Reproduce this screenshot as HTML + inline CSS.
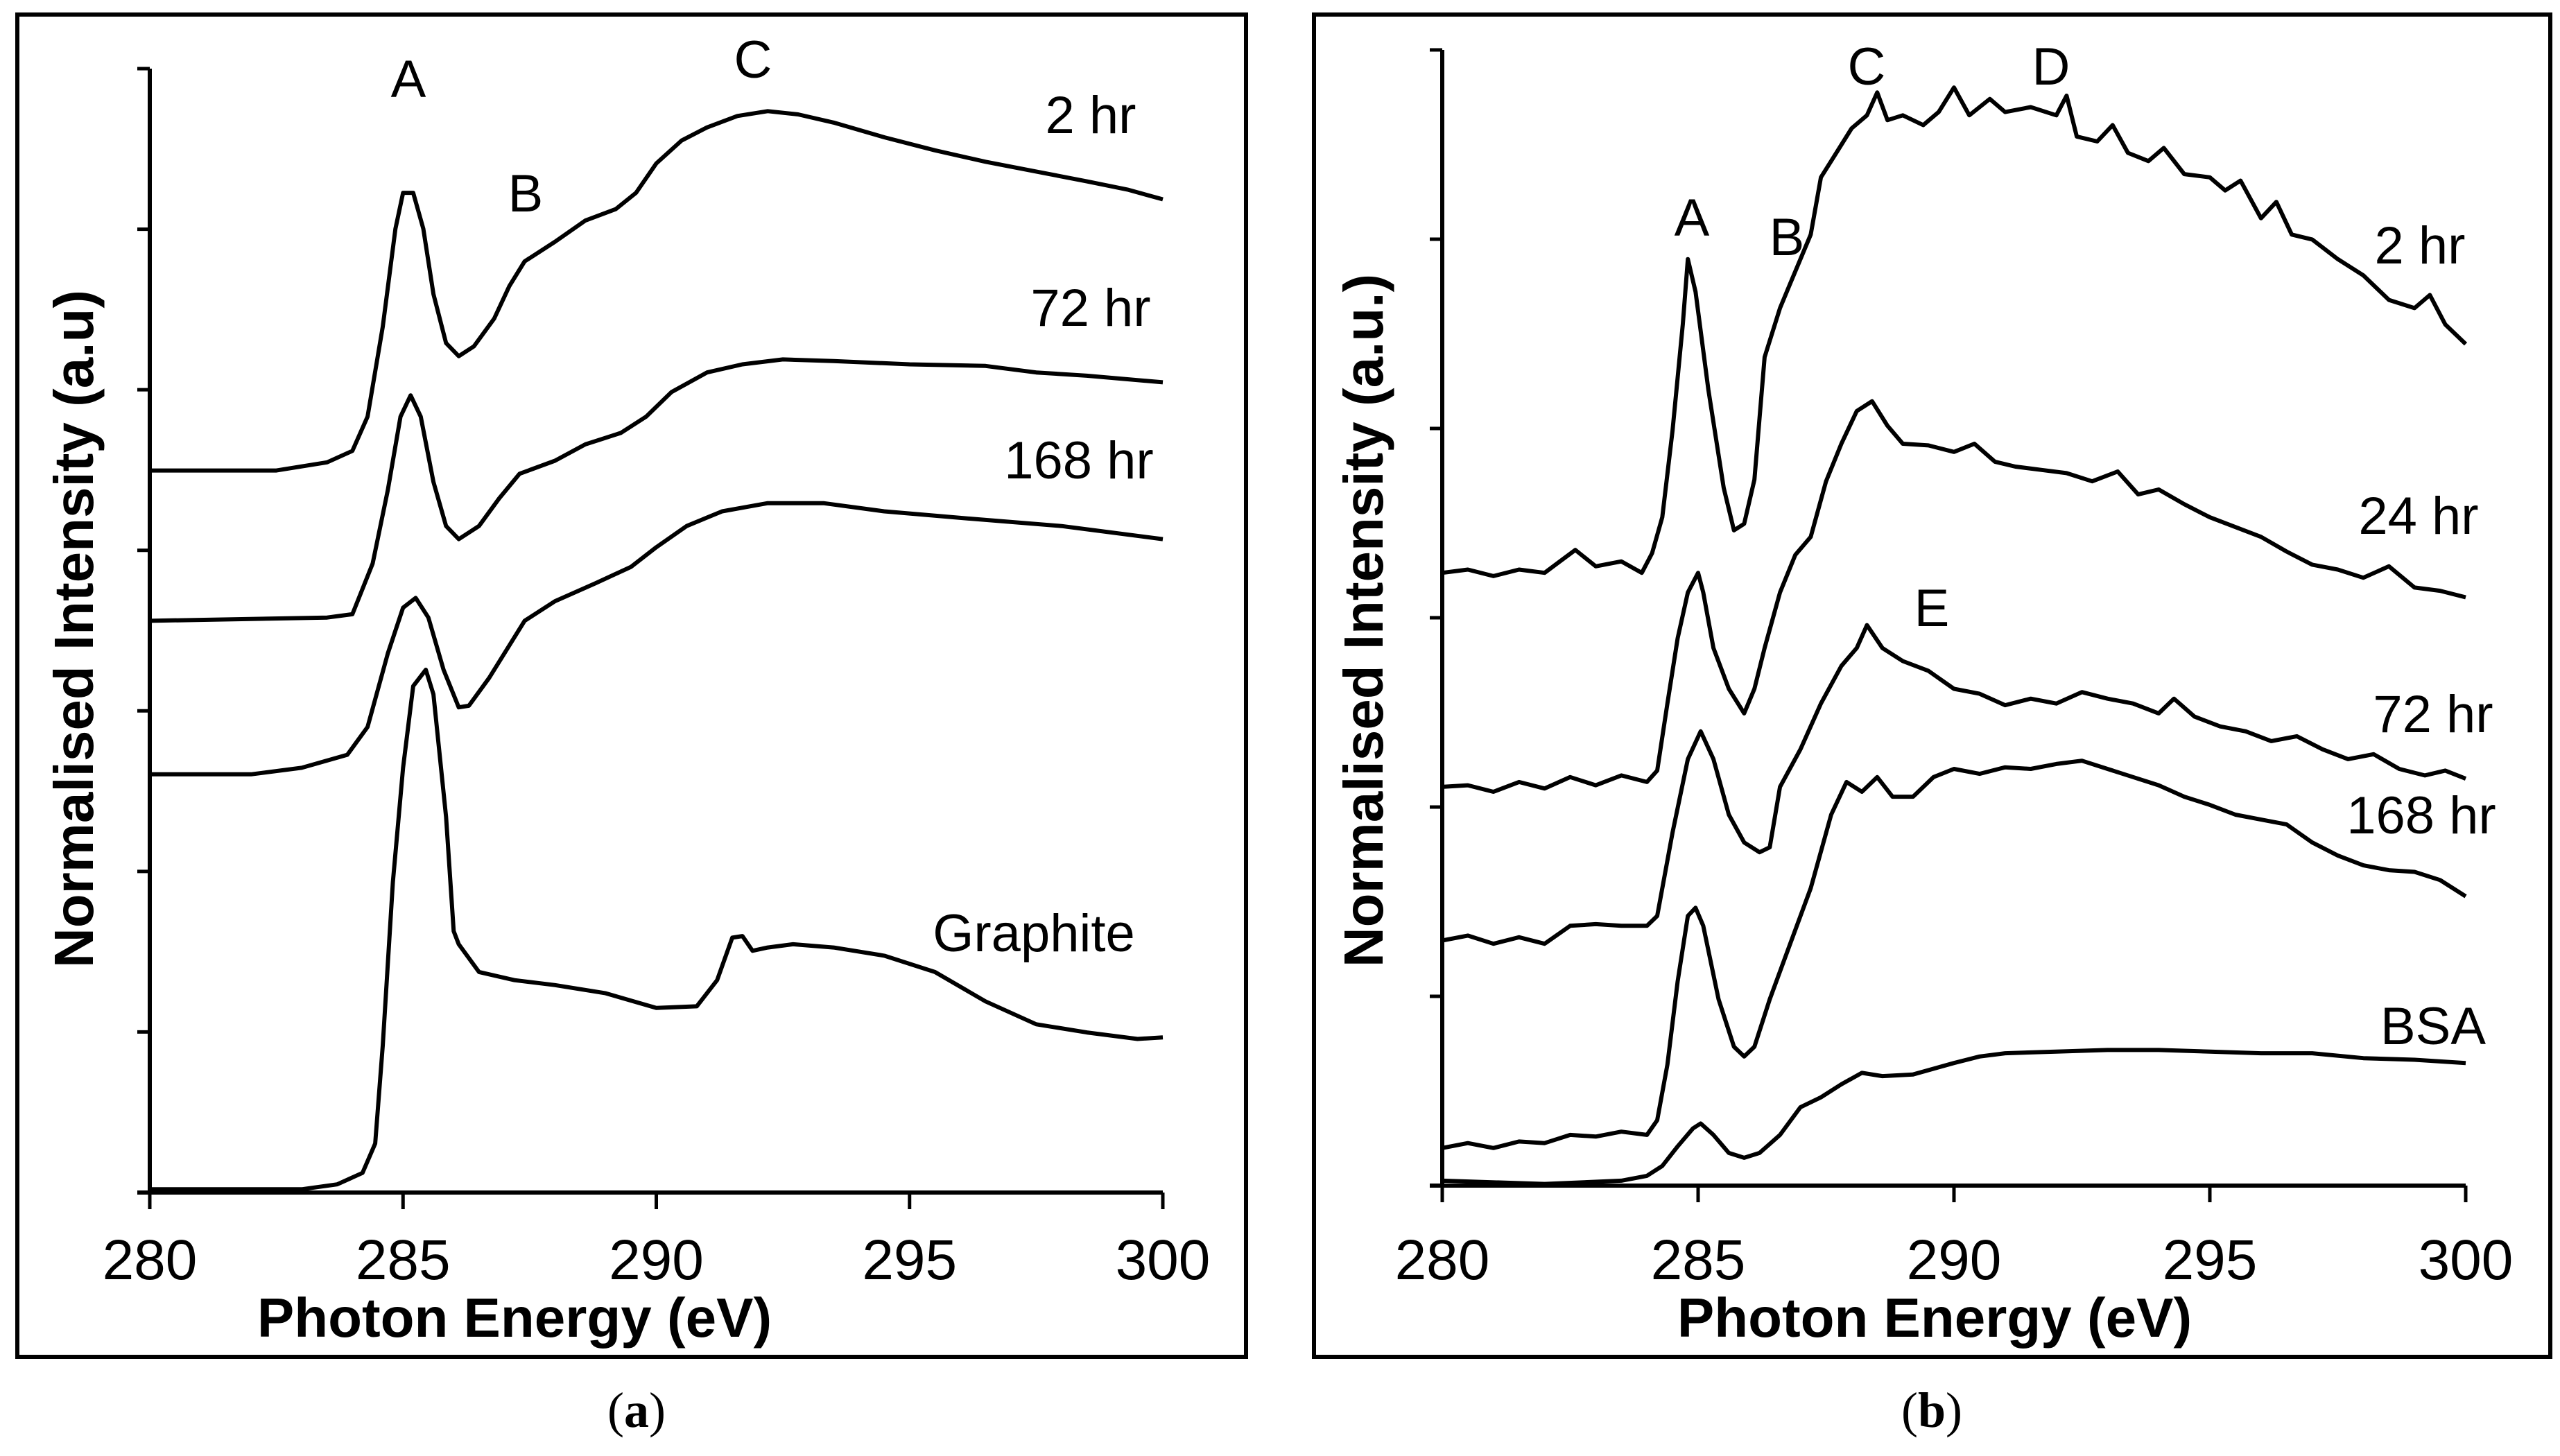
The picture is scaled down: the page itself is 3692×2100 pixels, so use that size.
<!DOCTYPE html>
<html><head><meta charset="utf-8"><style>
html,body{margin:0;padding:0;background:#fff}
svg{display:block}
text{font-family:"Liberation Sans",sans-serif;fill:#000}
</style></head><body>
<svg id="fig" width="3692" height="2100" viewBox="0 0 3692 2100">
<rect x="25" y="21" width="1772" height="1936" fill="none" stroke="#000" stroke-width="6"/>
<rect x="1895" y="21" width="1783" height="1936" fill="none" stroke="#000" stroke-width="6"/>
<g id="pa"></g>
<g id="pb"></g>
<text x="113" y="907" font-size="80" font-weight="bold" text-anchor="middle" dominant-baseline="middle" transform="rotate(-90 113 907)">Normalised Intensity (a.u)</text>
<text x="1973" y="895" font-size="80" font-weight="bold" text-anchor="middle" dominant-baseline="middle" transform="rotate(-90 1973 895)">Normalised Intensity (a.u.)</text>
<text x="742" y="1928" font-size="80" font-weight="bold" text-anchor="middle">Photon Energy (eV)</text>
<text x="2790" y="1928" font-size="80" font-weight="bold" text-anchor="middle">Photon Energy (eV)</text>
<text x="918" y="2058" font-size="72" text-anchor="middle" style="font-family:'Liberation Serif',serif">(<tspan font-weight="bold">a</tspan>)</text>
<text x="2786" y="2058" font-size="72" text-anchor="middle" style="font-family:'Liberation Serif',serif">(<tspan font-weight="bold">b</tspan>)</text>
</svg>
<script>
// ---------- shared x ticks ----------
const xTicks = [280, 285, 290, 295, 300];

// ---------- Panel A data (energy eV, intensity a.u.) ----------
const aX2 = [280,282.5,283.5,284,284.3,284.6,284.85,285,285.2,285.4,285.6,285.85,286.1,286.4,286.8,287.1,287.4,288,288.6,289.2,289.6,290,290.5,291,291.6,292.2,292.8,293.5,294.5,295.5,296.5,297.5,298.5,299.3,300];
const aY2 = [442,442,447,454,475,530,590,612,612,590,550,520,512,518,535,555,570,582,595,602,612,630,644,652,659,662,660,655,646,638,631,625,619,614,608];
const aX72 = [280,283.5,284,284.4,284.7,284.95,285.15,285.35,285.6,285.85,286.1,286.5,286.9,287.3,288,288.6,289.3,289.8,290.3,291,291.7,292.5,293.5,295,296.5,297.5,298.5,300];
const aY72 = [350,352,354,385,430,475,488,475,435,408,400,408,425,440,448,458,465,475,490,502,507,510,509,507,506,502,500,496];
const aX168 = [280,282,283,283.9,284.3,284.7,285,285.25,285.5,285.8,286.1,286.3,286.7,287.1,287.4,288,288.8,289.5,290,290.6,291.3,292.2,293.3,294.5,296,298,300];
const aY168 = [256,256,260,268,285,330,358,364,352,320,297,298,315,335,350,362,373,383,395,408,417,422,422,417,413,408,400];
const aXg = [280,283,283.7,284.2,284.45,284.6,284.8,285,285.2,285.45,285.6,285.85,286,286.1,286.5,287.2,288,289,290,290.8,291.2,291.5,291.7,291.9,292.2,292.7,293.5,294.5,295.5,296.5,297.5,298.5,299.5,300];
const aYg = [2,2,5,12,30,90,190,260,310,320,305,230,160,152,135,130,127,122,113,114,130,156,157,148,150,152,150,145,135,117,103,98,94,95];
const aYMax = 688;

// ---------- Panel B data ----------
const bX2 = [280,280.5,281,281.5,282,282.3,282.6,283,283.5,283.9,284.1,284.3,284.5,284.7,284.8,284.95,285.2,285.5,285.7,285.9,286.1,286.3,286.6,286.8,287,287.2,287.4,287.7,288,288.3,288.5,288.7,289,289.4,289.7,290,290.3,290.7,291,291.5,292,292.2,292.4,292.8,293.1,293.4,293.8,294.1,294.5,295,295.3,295.6,296,296.3,296.6,297,297.5,298,298.5,299,299.3,299.6,300];
const bY2 = [375,377,373,377,375,382,389,379,382,375,387,409,462,527,567,547,487,427,401,405,432,507,537,552,567,582,617,632,647,655,669,652,655,649,657,672,655,665,657,660,655,667,642,639,649,632,627,635,619,617,609,615,592,602,582,579,567,557,542,537,545,527,515];
const bX24 = [280,280.5,281,281.5,282,282.5,283,283.5,284,284.2,284.4,284.6,284.8,285,285.1,285.3,285.6,285.9,286.1,286.3,286.6,286.9,287.2,287.5,287.8,288.1,288.4,288.7,289,289.5,290,290.4,290.8,291.2,291.7,292.2,292.7,293.2,293.6,294,294.5,295,295.5,296,296.5,297,297.5,298,298.5,299,299.5,300];
const bY24 = [244,245,241,247,243,250,245,251,247,254,295,335,363,375,363,329,304,289,304,329,363,386,397,431,454,474,480,465,454,453,449,454,443,440,438,436,431,437,423,426,417,409,403,397,388,380,377,372,379,366,364,360];
const bX72 = [280,280.5,281,281.5,282,282.5,283,283.5,284,284.2,284.5,284.8,285.05,285.3,285.6,285.9,286.2,286.4,286.6,287,287.4,287.8,288.1,288.3,288.6,289,289.5,290,290.5,291,291.5,292,292.5,293,293.5,294,294.3,294.7,295.2,295.7,296.2,296.7,297.2,297.7,298.2,298.7,299.2,299.6,300];
const bY72 = [150,153,148,152,148,159,160,159,159,165,216,261,278,261,227,210,204,207,244,267,295,318,329,343,329,321,315,304,301,294,298,295,302,298,295,289,298,287,281,278,272,275,267,261,264,255,251,254,249];
const bX168 = [280,280.5,281,281.5,282,282.5,283,283.5,284,284.2,284.4,284.6,284.8,284.95,285.1,285.4,285.7,285.9,286.1,286.4,286.8,287.2,287.6,287.9,288.2,288.5,288.8,289.2,289.6,290,290.5,291,291.5,292,292.5,293,293.5,294,294.5,295,295.5,296,296.5,297,297.5,298,298.5,299,299.5,300];
const bY168 = [23,26,23,27,26,31,30,33,31,40,74,125,165,170,159,114,85,79,85,114,148,182,227,247,241,250,238,238,250,255,252,256,255,258,260,255,250,245,238,233,227,224,221,210,202,196,193,192,187,177];
const bXbsa = [280,282,283.5,284,284.3,284.6,284.9,285.05,285.3,285.6,285.9,286.2,286.6,287,287.4,287.8,288.2,288.6,289.2,290,290.5,291,292,293,294,295,296,297,298,299,300];
const bYbsa = [3,1,3,6,12,24,35,38,31,20,17,20,31,48,54,62,69,67,68,75,79,81,82,83,83,82,81,81,78,77,75];
const bYMax = 695;

const NS = "http://www.w3.org/2000/svg";
function mk(tag, attrs, parent){const e=document.createElementNS(NS,tag);for(const k in attrs)e.setAttribute(k,attrs[k]);parent.appendChild(e);return e;}

function drawPanel(g, cfg){
  const sx = v => cfg.x0 + (v-280)/20*(cfg.x1-cfg.x0);
  const sy = v => cfg.yb - v/cfg.ymax*(cfg.yb-cfg.yt);
  const ya = mk('line',{x1:sx(280),y1:cfg.yt,x2:sx(280),y2:cfg.yb,stroke:'#000','stroke-width':6},g);
  
  
  const xa = mk('line',{x1:sx(280)-18,y1:cfg.yb,x2:sx(300),y2:cfg.yb,stroke:'#000','stroke-width':6},g);
  
  
  for(let i=0;i<=cfg.nTicks;i++){
    const y = cfg.yb - i*(cfg.yb-cfg.yt)/cfg.nTicks;
    const t = mk('line',{x1:sx(280)-18,y1:y,x2:sx(280),y2:y,stroke:'#000','stroke-width':5},g);
    
    
  }
  xTicks.forEach(v=>{
    const t = mk('line',{x1:sx(v),y1:cfg.yb,x2:sx(v),y2:cfg.yb+24,stroke:'#000','stroke-width':5},g);
    
    
    const l = mk('text',{x:sx(v),y:1845,'font-size':82,'text-anchor':'middle'},g);
    l.textContent = v;
    
    
  });
  cfg.series.forEach(s=>{
    let d='';
    s.x.forEach((xv,i)=>{d += (i?'L':'M')+sx(xv).toFixed(1)+' '+sy(s.y[i]).toFixed(1);});
    const p = mk('path',{d:d,fill:'none',stroke:'#000','stroke-width':6,'stroke-linejoin':'round'},g);
    
    
  });
  cfg.labels.forEach(l=>{
    const t = mk('text',{x:l[1],y:l[2],'font-size':76,'text-anchor':'middle'},g);
    t.textContent = l[0];
    
    
  });
}

drawPanel(document.getElementById('pa'),{
  x0:216,x1:1677,yb:1720,yt:99,ymax:aYMax,nTicks:7,
  series:[{name:'series-2hr',x:aX2,y:aY2},{name:'series-72hr',x:aX72,y:aY72},{name:'series-168hr',x:aX168,y:aY168},{name:'series-graphite',x:aXg,y:aYg}],
  labels:[['A',589,140,'peak-label-a'],['B',758,305,'peak-label-b'],['C',1086,112,'peak-label-c'],
          ['2 hr',1573,192,'label-2hr'],['72 hr',1573,470,'label-72hr'],['168 hr',1556,690,'label-168hr'],['Graphite',1491,1372,'label-graphite']]
});
drawPanel(document.getElementById('pb'),{
  x0:2080,x1:3556,yb:1710,yt:72,ymax:bYMax,nTicks:6,
  series:[{name:'series-2hr',x:bX2,y:bY2},{name:'series-24hr',x:bX24,y:bY24},{name:'series-72hr',x:bX72,y:bY72},{name:'series-168hr',x:bX168,y:bY168},{name:'series-bsa',x:bXbsa,y:bYbsa}],
  labels:[['A',2440,340,'peak-label-a'],['B',2577,368,'peak-label-b'],['C',2692,122,'peak-label-c'],['D',2958,122,'peak-label-d'],['E',2786,903,'peak-label-e'],
          ['2 hr',3490,380,'label-2hr'],['24 hr',3488,770,'label-24hr'],['72 hr',3509,1056,'label-72hr'],['168 hr',3492,1202,'label-168hr'],['BSA',3509,1506,'label-bsa']]
});
</script>
</body></html>
